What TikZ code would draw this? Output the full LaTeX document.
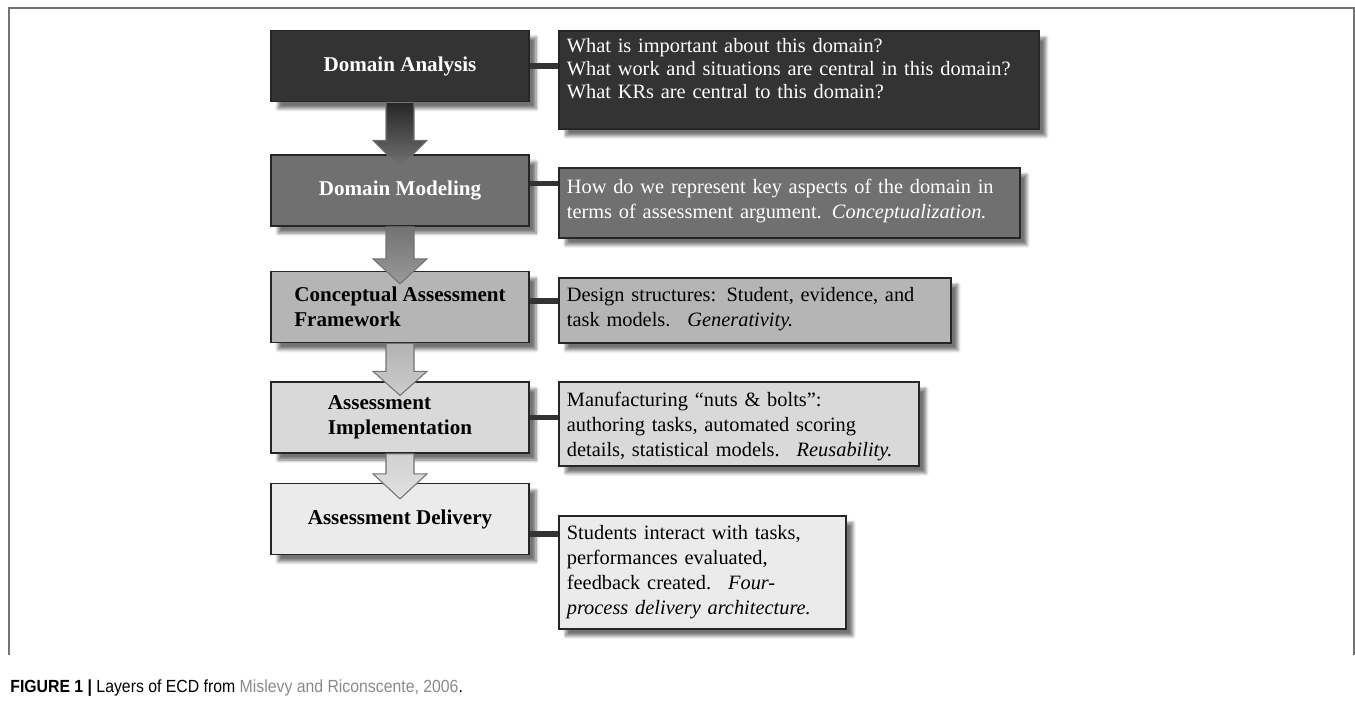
\documentclass[tikz,border=0pt]{standalone}
\usepackage{fontspec}
\setmainfont{Liberation Serif}
\newfontfamily\capfont[FakeStretch=0.9]{Liberation Sans}
\usetikzlibrary{calc,shadows.blur}

\definecolor{layerA}{HTML}{333333}
\definecolor{layerB}{HTML}{707070}
\definecolor{layerC}{HTML}{B5B5B5}
\definecolor{layerD}{HTML}{D9D9D9}
\definecolor{layerE}{HTML}{EBEBEB}
\definecolor{capgray}{HTML}{8A8A8A}

\tikzset{
  layer/.style={draw=black!85, line width=1pt, minimum width=5.16cm, minimum height=1.42cm,
    align=left, font=\bfseries\fontsize{12}{14}\selectfont,
    blur shadow={shadow xshift=4pt, shadow yshift=-4pt, shadow opacity=55, shadow blur steps=6}},
  note/.style={draw=black!85, line width=1pt, anchor=north west, align=left,
    inner xsep=0.16cm, inner ysep=0.1cm, font=\fontsize{11.6}{14.2}\selectfont,
    blur shadow={shadow xshift=4pt, shadow yshift=-4pt, shadow opacity=55, shadow blur steps=6}},
  link/.style={line width=3pt, draw=black!80},
  flow/.style={draw=black!55, line width=0.6pt},
  frame/.style={draw=black!55, line width=0.9pt}
}

\begin{document}
\begin{tikzpicture}[x=0.02cm, y=-0.02cm]
\useasboundingbox (0,0) rectangle (1355,707);

\draw[frame] (9,655) -- (9,8) -- (1354,8) -- (1354,655);

% layers
\node[layer, fill=layerA, text=white] (da) at (400,66) {Domain Analysis};
\node[layer, fill=layerB, text=white] (dm) at (400,190.5) {Domain Modeling};
\node[layer, fill=layerC] (caf) at (400,307) {Conceptual Assessment\\Framework};
\node[layer, fill=layerD] (ai) at (400,417.5) {Assessment\\Implementation};
\node[layer, fill=layerE] (ad) at (400,519) {Assessment Delivery};

% notes
\node[note, fill=layerA, text=white, text width=9.28cm, text height=0.34cm, text depth=1.42cm,
  font=\fontsize{11.6}{13}\selectfont] (rb1) at (558,30)
  {What is important about this domain?\\What work and situations are central in this domain?\\What KRs are central to this domain?};
\node[note, fill=layerB, text=white, text width=8.9cm, text height=0.42cm, text depth=0.78cm] (rb2) at (558,167)
  {How do we represent key aspects of the domain in\\terms of assessment argument. \textit{Conceptualization.}};
\node[note, fill=layerC, text width=7.52cm, text height=0.38cm, text depth=0.72cm] (rb3) at (558,277)
  {Design structures: Student, evidence, and\\task models. \ \textit{Generativity.}};
\node[note, fill=layerD, text width=6.88cm, text height=0.4cm, text depth=1.08cm] (rb4) at (558,381)
  {Manufacturing ``nuts \& bolts'':\\authoring tasks, automated scoring\\details, statistical models. \ \textit{Reusability.}};
\node[note, fill=layerE, text width=5.42cm, text height=0.38cm, text depth=1.68cm] (rb5) at (558,515)
  {Students interact with tasks,\\performances evaluated,\\feedback created. \ \textit{Four-}\\\textit{process delivery architecture.}};

% links
\draw[link] (da.east) -- (da.east -| rb1.west);
\draw[link] ($(dm.east)+(0,-7)$) coordinate (dmlink) -- (dmlink -| rb2.west);
\draw[link] ($(caf.east)+(0,-6)$) coordinate (caflink) -- (caflink -| rb3.west);
\draw[link] (ai.east) -- (ai.east -| rb4.west);
\draw[link] ($(ad.east)+(0,15)$) coordinate (adlink) -- (adlink -| rb5.west);

% arrows
\draw[flow, top color=black!85, bottom color=black!55] ($(da.south)+(-14,0)$) -- ++(0,38) -- ++(-13,0) -- ++(27,27) -- ++(27,-27) -- ++(-13,0) -- ++(0,-38) -- cycle;
\draw[flow, top color=black!55, bottom color=black!40] ($(dm.south)+(-14,0)$) -- ++(0,32) -- ++(-13,0) -- ++(27,25) -- ++(27,-25) -- ++(-13,0) -- ++(0,-32) -- cycle;
\draw[flow, top color=black!30, bottom color=black!20] ($(caf.south)+(-14,0)$) -- ++(0,28) -- ++(-13,0) -- ++(27,24) -- ++(27,-24) -- ++(-13,0) -- ++(0,-28) -- cycle;
\draw[flow, top color=black!18, bottom color=black!12] ($(ai.south)+(-14,0)$) -- ++(0,20) -- ++(-13,0) -- ++(27,25) -- ++(27,-25) -- ++(-13,0) -- ++(0,-20) -- cycle;

% caption
\node[anchor=base west, inner sep=0pt, font=\capfont\fontsize{10}{12}\selectfont] (cap) at (10,692)
  {\textbf{FIGURE 1 |} Layers of ECD from \textcolor{capgray}{Mislevy and Riconscente, 2006}.};
\end{tikzpicture}
\end{document}
